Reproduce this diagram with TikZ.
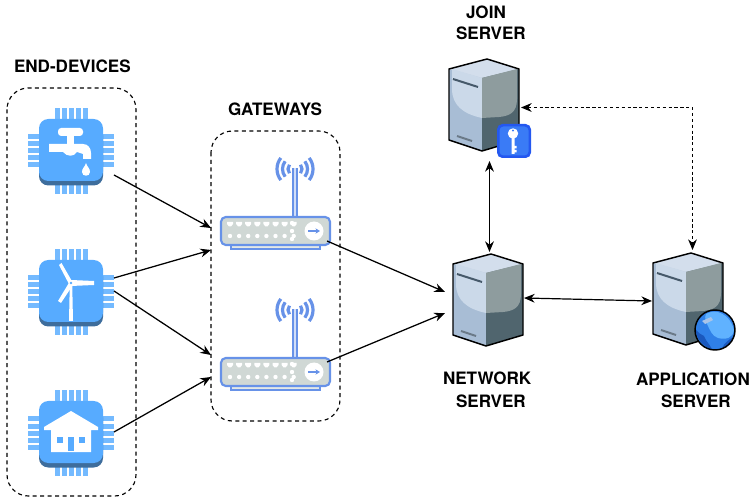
\documentclass[tikz,border=0pt]{standalone}
\usepackage{fontspec}
\setmainfont{TeX Gyre Heros}
\usetikzlibrary{arrows.meta,calc}
\definecolor{chipblue}{HTML}{57ABFF}
\definecolor{chipdark}{HTML}{3E6D9C}
\definecolor{chippin}{HTML}{74BAFF}
\definecolor{routerblue}{HTML}{6792E8}
\definecolor{routergray}{HTML}{D0D8D5}
\definecolor{srvtop}{HTML}{D3DEEC}
\definecolor{srvlight}{HTML}{CBD9E9}
\definecolor{srvlow}{HTML}{A8BDD5}
\definecolor{srvgray}{HTML}{8E9C9E}
\definecolor{srvdark}{HTML}{50656E}
\definecolor{srvline}{HTML}{46596A}
\definecolor{badgeout}{HTML}{2458F0}
\definecolor{badgein}{HTML}{3A7BF6}
\definecolor{globebase}{HTML}{2F80E8}
\definecolor{globelight}{HTML}{60B2FF}
\definecolor{globedark}{HTML}{1A58BE}
\definecolor{globeglare}{HTML}{A9C4E8}
\tikzset{
  every node/.style={inner sep=0pt,outer sep=0pt},
  title/.style={font=\bfseries\fontsize{12.8}{15}\selectfont,text=black},
  group/.style={draw=black,line width=.85pt,dash pattern=on 3pt off 2.6pt,rounded corners=16pt},
  link/.style={draw=black,line width=.95pt,-{Stealth[length=8pt,width=6.6pt]}},
  biglink/.style={draw=black,line width=.9pt,{Stealth[length=8pt,width=6.6pt]}-{Stealth[length=8pt,width=6.6pt]}},
  dashlink/.style={biglink,line width=.8pt,dash pattern=on 2.4pt off 2pt},
  chipbox/.style={minimum width=64.5pt,minimum height=64.5pt},
  routerbox/.style={minimum width=87pt,minimum height=71pt},
  serverbox/.style={minimum width=52.5pt,minimum height=68pt},
  chip/.pic={
    \foreach \k in {-2,...,2}{
      \fill[chippin] (\k*7-2.5,-43) rectangle (\k*7+2.5,-25);
      \fill[chippin] (\k*7-2.5,25) rectangle (\k*7+2.5,43);
      \fill[chippin] (-43,\k*7-2.5) rectangle (-25,\k*7+2.5);
      \fill[chippin] (25,\k*7-2.5) rectangle (43,\k*7+2.5);
    }
    \fill[chipdark,rounded corners=7pt] (-32,-25) rectangle (32,34.5);
    \fill[chipblue,rounded corners=7pt] (-32,-32) rectangle (32,30);
  },
  router/.pic={
    \fill[routerblue] (-3,-49) rectangle (3,0);
    \fill[white!70!routerblue] (-.8,-49) rectangle (.8,0);
    \begin{scope}[draw=routerblue,line width=2.4pt]
      \foreach \r in {7,12.5,18}{
        \draw ([shift={(0,-48)}]142:\r) arc[start angle=142,end angle=218,radius=\r];
        \draw ([shift={(0,-48)}]38:\r) arc[start angle=38,end angle=-38,radius=\r];
      }
    \end{scope}
    \fill[routergray!60!white,draw=routerblue,line width=1pt] (-64,28) rectangle (25,32);
    \fill[routergray,draw=routerblue,line width=1.6pt,rounded corners=3.6pt] (-74,0) rectangle (35,28);
    \foreach \k in {0,...,7}{
      \fill[white] (-68+\k*9.1,5) -- ++(6,0) -- ++(0,2) -- ++(-2,2.5) -- ++(-2,0) -- ++(-2,-2.5) -- cycle;
      \fill[white] (-65+\k*9.1,19) circle[radius=2.2];
    }
    \foreach \yy in {6,14,22} \fill[white] (-3,\yy) circle[radius=2.2];
    \fill[white] (19,14) circle[radius=9.5];
    \draw[routerblue,line width=1.2pt,-{Stealth[length=3.4pt,width=4pt]}] (13,14) -- (25,14);
  },
  server/.pic={
    \fill[srvtop] (0,0) -- (38,-10) -- (70,0) -- (33,9) -- cycle;
    \fill[srvlow] (0,0) -- (33,9) -- (33,82) -- (0,71) -- cycle;
    \fill[srvlight] (3,0) -- (33,9) -- (33,49) .. controls (14,45) and (3,36) .. (3,20) -- cycle;
    \fill[srvdark] (33,9) -- (70,0) -- (70,71) -- (33,82) -- cycle;
    \fill[srvgray] (33,9) -- (68,0) -- (68,30) .. controls (68,44) and (60,47) .. (50,48) -- (33,49) -- cycle;
    \draw[srvline,line width=1.5pt] (4,10) -- (29,18);
    \draw[srvline!80!white,line width=1.5pt] (8,67) -- (23,72);
    \draw[black,line width=1.1pt,line join=round] (0,0) -- (38,-10) -- (70,0) -- (70,71) -- (33,82) -- (0,71) -- cycle;
  }
}
\begin{document}
\begin{tikzpicture}[x=.75pt,y=-.75pt]
\useasboundingbox (0,0) rectangle (756,498);
% groups
\draw[group] (7,88) rectangle (136,496);
\draw[group] (211,131) rectangle (340,421);
% end-device chips
\node[chipbox] (c1) at (71,151) {};
\node[chipbox] (c2) at (71,292) {};
\node[chipbox] (c3) at (71,433) {};
\pic at (c1.center) {chip};
\pic at (c2.center) {chip};
\pic at (c3.center) {chip};
% faucet
\begin{scope}[shift={(c1.center)}]
  \fill[white,rounded corners=2.4pt] (-13,-23) rectangle (12,-15);
  \fill[white] (-4,-16) rectangle (3,-6);
  \fill[white] (-22,-7) -- (12,-7) .. controls (17,-7) and (20,-3) .. (20,2) -- (20,8) -- (12,8) -- (12,3) -- (6,1) .. controls (3,6) and (-4,6) .. (-8,1) -- (-22,1) -- cycle;
  \fill[white] (15,12) .. controls (16,16) and (19,17) .. (19,21) .. controls (19,26) and (11,26) .. (11,21) .. controls (11,17) and (14,16) .. (15,12) -- cycle;
\end{scope}
% windmill
\begin{scope}[shift={(c2.center)}]
  \fill[white] (-1.2,-9) -- (1.2,-9) -- (2,29) -- (-2,29) -- cycle;
  \fill[white] (-12,-27) -- (-9.5,-29) -- (2,-9) -- (-1,-6) -- cycle;
  \fill[white] (0,-12) -- (23,-11) -- (23,-7) -- (0,-6) -- cycle;
  \fill[white] (-1.5,-10) -- (2,-7) -- (-10,11) -- (-13,9) -- cycle;
  \fill[chipblue] (0,-9) circle[radius=1.3];
\end{scope}
% house
\begin{scope}[shift={(c3.center)}]
  \fill[white,line join=round] (0,-22) -- (27,-6) -- (27,-3) -- (20,-3) -- (20,19) -- (-20,19) -- (-20,-3) -- (-27,-3) -- (-27,-6) -- cycle;
  \fill[chipblue] (-14,4) rectangle (-8,10);
  \fill[chipblue] (8,4) rectangle (14,10);
  \fill[chipblue] (-3,4) rectangle (3,18);
\end{scope}
% routers
\node[routerbox] (r1) at (269,202) {};
\node[routerbox] (r2) at (269,343) {};
\pic at (295,217) {router};
\pic at (295,358) {router};
% servers
\node[serverbox] (js) at (484,105) {};
\node[serverbox] (ns) at (488,300) {};
\node[serverbox] (as) at (688,299) {};
\pic at (449,69) {server};
\pic at (453,264) {server};
\pic at (653,263) {server};
% key badge
\fill[badgeout,rounded corners=4pt] (497,124) rectangle (531,158);
\fill[badgein,rounded corners=3pt] (499.5,126.5) rectangle (528.5,155.5);
\fill[white] (513,133.5) circle[radius=5.2];
\fill[white] (511.5,136) rectangle (514.5,154) (514,146) rectangle (516.5,148.5) (514,150) rectangle (516.5,152.5);
\fill[badgein] (513,130.5) circle[radius=1.2];
% globe
\fill[globebase] (715,330) circle[radius=20];
\fill[globelight] (706,314) .. controls (716,308) and (730,314) .. (734,330) .. controls (733,338) and (726,340) .. (718,338) .. controls (712,336) and (710,330) .. (708,326) .. controls (706,322) and (704,318) .. (706,314) -- cycle;
\fill[globedark] (696,330) .. controls (696,338) and (702,346) .. (712,349.5) .. controls (710,344) and (706,342) .. (704,336) .. controls (701,335) and (699,333) .. (696,330) -- cycle;
\fill[globedark] (722,348) .. controls (728,346) and (731,342) .. (733,337) .. controls (729,340) and (725,342) .. (722,348) -- cycle;
\fill[globeglare] (702,321) -- (711,317) -- (713,320) -- (705,324) -- cycle;
\draw[black,line width=1.1pt] (715,330) circle[radius=20];
% connectors
\draw[link] ($(c1.center)+(43,24)$) -- ($(r1.center)+(-58,26)$);
\draw[link] ($(c2.center)+(43,-14)$) -- ($(r1.center)+(-58,48)$);
\draw[link] ($(c2.center)+(43,-1)$) -- ($(r2.center)+(-58,12)$);
\draw[link] ($(c3.center)+(43,-1)$) -- ($(r2.center)+(-58,34)$);
\draw[link] ($(r1.center)+(58,39)$) -- ($(ns.center)+(-43,-8)$);
\draw[link] ($(r2.center)+(58,19)$) -- ($(ns.center)+(-43,13)$);
\draw[biglink] ($(js.center)+(5.5,56)$) -- ($(ns.center)+(1.5,-48)$);
\draw[biglink] ($(ns.center)+(36,-2)$) -- ($(as.center)+(-36,2)$);
\draw[dashlink] ($(js.center)+(37,2.5)$) -| ($(as.center)+(4.5,-49)$);
% labels
\node[title,anchor=base west] (tend) at (14,73) {END-DEVICES};
\node[title,anchor=base west] (tgw) at (228,116) {GATEWAYS};
\node[title,anchor=base west] (tj1) at (466,19) {JOIN};
\node[title,anchor=base west] (tj2) at (456,40) {SERVER};
\node[title,anchor=base west] (tn1) at (443,385) {NETWORK};
\node[title,anchor=base west] (tn2) at (456,407) {SERVER};
\node[title,anchor=base west] (ta1) at (636,386) {APPLICATION};
\node[title,anchor=base west] (ta2) at (661,407) {SERVER};
\end{tikzpicture}
\end{document}
